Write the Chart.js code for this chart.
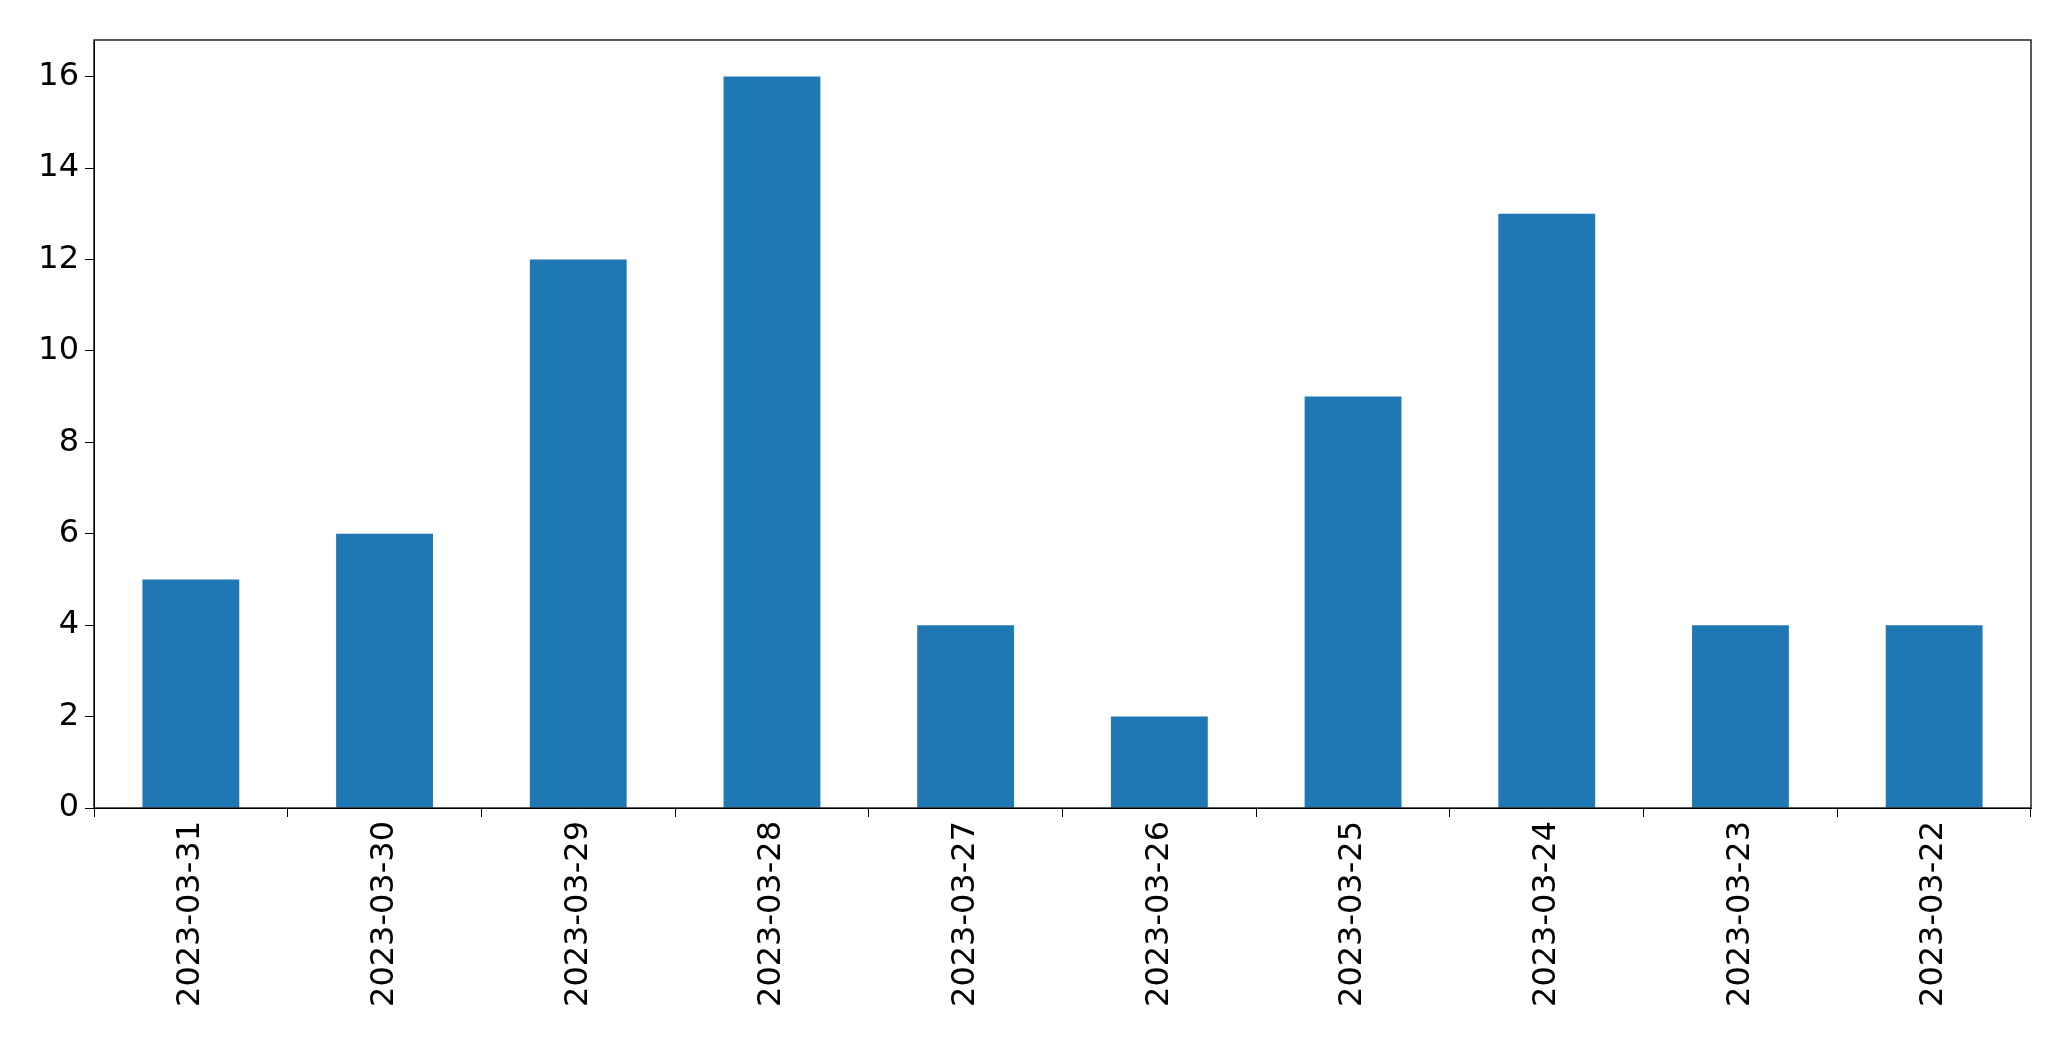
<!DOCTYPE html>
<html>
<head>
<meta charset="UTF-8">
<script src="https://cdn.jsdelivr.net/npm/chart.js"></script>
<style>
  body { margin: 0; background: #fff; }
  canvas { display: block; }
</style>
</head>
<body>
<canvas id="chart" width="2071" height="1061"></canvas>
<script>
const dates = ['2023-03-31','2023-03-30','2023-03-29','2023-03-28','2023-03-27','2023-03-26','2023-03-25','2023-03-24','2023-03-23','2023-03-22'];
const counts = [5, 6, 12, 16, 4, 2, 9, 13, 4, 4];
const yTicks = [0, 2, 4, 6, 8, 10, 12, 14, 16];

// Rahmen um die Zeichenfläche wie bei matplotlib
const frame = {
  id: 'frame',
  afterDraw(chart) {
    const a = chart.chartArea, c = chart.ctx;
    c.save();
    c.strokeStyle = '#000';
    c.lineWidth = 1.3;
    c.strokeRect(a.left, a.top, a.right - a.left, a.bottom - a.top);
    c.restore();
  }
};

new Chart(document.getElementById('chart'), {
  type: 'bar',
  data: {
    labels: dates,
    datasets: [{ data: counts, backgroundColor: '#1f77b4', categoryPercentage: 0.5, barPercentage: 1 }]
  },
  options: {
    responsive: false,
    animation: false,
    layout: { padding: { top: 40, right: 40, left: 0, bottom: 0 } },
    plugins: { legend: { display: false }, tooltip: { enabled: false } },
    scales: {
      x: {
        afterFit(s) { s.height = 253; },
        grid: { drawOnChartArea: false, color: '#000', tickLength: 9 },
        border: { color: '#000' },
        ticks: { color: '#000', font: { family: 'DejaVu Sans', size: 32 }, maxRotation: 90, minRotation: 90, padding: 4 }
      },
      y: {
        min: 0, max: 16.8,
        afterFit(s) { s.width = 94; },
        afterBuildTicks(s) { s.ticks = yTicks.map(v => ({ value: v })); },
        grid: { drawOnChartArea: false, color: '#000', tickLength: 9 },
        border: { color: '#000' },
        ticks: { color: '#000', font: { family: 'DejaVu Sans', size: 32 }, padding: 6 }
      }
    }
  },
  plugins: [frame]
});
</script>
</body>
</html>
